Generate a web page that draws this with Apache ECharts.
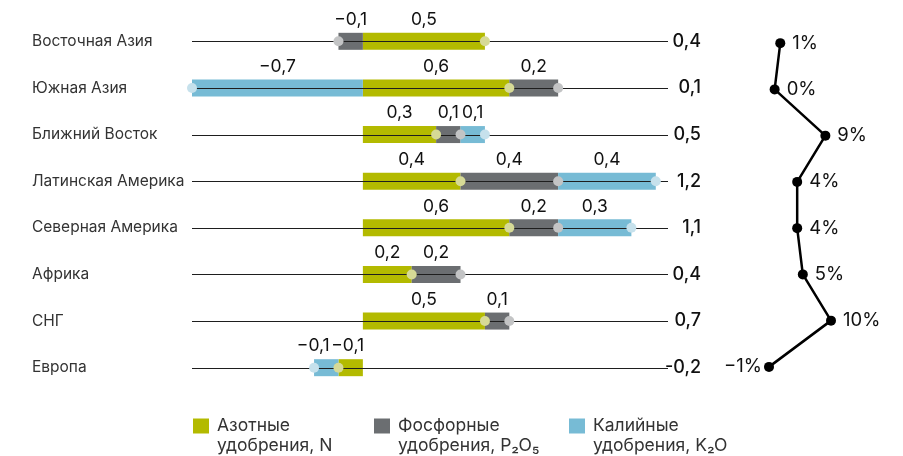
<!DOCTYPE html>
<html><head><meta charset="utf-8">
<script src="https://cdn.jsdelivr.net/npm/echarts@6/dist/echarts.min.js"></script>
<style>html,body{margin:0;padding:0;background:#fff}#c{width:903px;height:456px}</style>
</head><body><div id="c"></div>
<script>
const regions = ['Восточная Азия','Южная Азия','Ближний Восток','Латинская Америка','Северная Америка','Африка','СНГ','Европа'];
const nitrogen = [0.5, 0.6, 0.3, 0.4, 0.6, 0.2, 0.5, -0.1];
const phosphate = [-0.1, 0.2, 0.1, 0.4, 0.2, 0.2, 0.1, 0];
const potash = [0, -0.7, 0.1, 0.4, 0.3, 0, 0, -0.1];
const totals = ['0,4','0,1','0,5','1,2','1,1','0,4','0,7','-0,2'];
const growthPct = [1, 0, 9, 4, 4, 5, 10, -1];
const seriesNames = ['Азотные\nудобрения, N','Фосфорные\nудобрения, P₂O₅','Калийные\nудобрения, K₂O'];

const FONT = 'Inter, "Noto Sans", sans-serif';
const barColors = ['#b3ba00','#6b6e71','#77bbd5'];
const dotColors = ['#d6da96','#c3c4c5','#c6e1ec'];
const fmt = v => (v < 0 ? '−' : '') + Math.abs(v).toFixed(1).replace('.', ',');
const nz = arr => arr.map(v => v === 0 ? '-' : v);
const valueSets = [nitrogen, phosphate, potash];

const bars = valueSets.map((arr, k) => ({
  type: 'bar', name: seriesNames[k], stack: 'bars', barWidth: 17,
  data: nz(arr).map((v, i) => (k === 2 && i === 7) ? {value: v, label: {offset: [-13, 0]}} : (k === 0 && i === 7 ? {value: v, label: {offset: [-3, 0]}} : v)),
  itemStyle: {color: barColors[k]}, z: 2,
  label: {show: true, position: 'top', distance: 4, fontFamily: FONT, fontSize: 17.5, color: '#111',
    formatter: p => (typeof p.value === 'number' && p.value !== 0) ? fmt(p.value) : ''}
}));
const dots = valueSets.map((arr, k) => ({
  type: 'line', stack: 'dots', data: nz(arr), symbol: 'circle', symbolSize: 10, showAllSymbol: true,
  lineStyle: {width: 0, opacity: 0}, itemStyle: {color: dotColors[k]}, z: 5, silent: true
}));
const rowLines = {
  type: 'custom', z: 4, silent: true,
  data: regions.map((r, i) => [i]), encode: {y: 0},
  renderItem: (params, api) => {
    const cs = params.coordSys;
    const y = Math.round(api.coord([0, api.value(0)])[1]) + 0.5;
    return {type: 'line', shape: {x1: cs.x, y1: y, x2: cs.x + cs.width, y2: y}, style: {stroke: '#1e1e1e', lineWidth: 1}};
  }
};
const pctLine = {
  type: 'line', xAxisIndex: 1, yAxisIndex: 2, z: 5,
  data: growthPct.map(v => v < 0 ? {value: v, label: {position: 'left', distance: 2}} : v),
  symbol: 'circle', symbolSize: 10, lineStyle: {color: '#000', width: 2.5}, itemStyle: {color: '#000'},
  label: {show: true, position: 'right', distance: 7, fontFamily: FONT, fontSize: 18.5, color: '#111',
    formatter: p => (p.value < 0 ? '−' : '') + Math.abs(p.value) + '%'}
};
const legendBase = {
  orient: 'horizontal', top: 396, padding: 0, itemWidth: 16, itemHeight: 15, icon: 'rect',
  selectedMode: false,
  formatter: n => '\n' + n.split('\n').map(s => '{t|' + s + '}').join('\n'),
  textStyle: {fontFamily: FONT, fontSize: 17.5, color: '#333', lineHeight: 20,
    rich: {t: {fontFamily: FONT, fontSize: 17.5, color: '#333', lineHeight: 20, padding: [0, 0, 0, 3]}}}
};

const chart = echarts.init(document.getElementById('c'));
chart.setOption({
  animation: false,
  grid: [
    {left: 192, width: 476, top: 18, height: 373},
    {left: 769, width: 62, top: 20, height: 370}
  ],
  xAxis: [
    {gridIndex: 0, type: 'value', min: -0.7, max: 1.25, show: false},
    {gridIndex: 1, type: 'value', min: -1, max: 10, show: false}
  ],
  yAxis: [
    {gridIndex: 0, type: 'category', data: regions, inverse: true, axisLine: {show: false}, axisTick: {show: false},
      axisLabel: {margin: 160, align: 'left', fontFamily: FONT, fontSize: 15.5, color: '#333'}},
    {gridIndex: 0, type: 'category', data: regions, inverse: true, position: 'right', axisLine: {show: false}, axisTick: {show: false},
      axisLabel: {margin: 33, align: 'right', fontFamily: FONT, fontSize: 18, fontWeight: 500, color: '#111', formatter: (v, i) => totals[i]}},
    {gridIndex: 1, type: 'category', data: regions, inverse: true, show: false}
  ],
  legend: [
    Object.assign({}, legendBase, {left: 193, data: [seriesNames[0]]}),
    Object.assign({}, legendBase, {left: 374, data: [seriesNames[1]]}),
    Object.assign({}, legendBase, {left: 569, data: [seriesNames[2]]})
  ],
  series: [...bars, rowLines, ...dots, pctLine]
});
</script></body></html>
